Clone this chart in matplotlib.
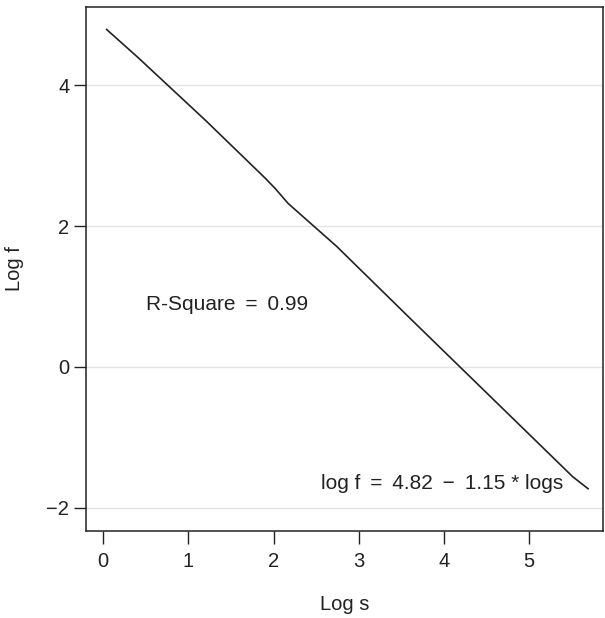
import matplotlib
matplotlib.use("Agg")
import matplotlib.pyplot as plt

# curve (log s vs log f)
log_s = [0.04, 0.41, 1.20, 1.90, 2.02, 2.17, 2.74, 3.60, 5.51, 5.69]
log_f = [4.79, 4.39, 3.50, 2.68, 2.53, 2.32, 1.71, 0.69, -1.56, -1.73]
xticks = [0, 1, 2, 3, 4, 5]
yticks = [-2, 0, 2, 4]

plt.rcParams["font.family"] = ["Liberation Sans", "DejaVu Sans"]
plt.rcParams["font.size"] = 14.5

fig = plt.figure(figsize=(6.05, 6.18), dpi=100)
ax = fig.add_axes([0.1421, 0.1408, 0.8546, 0.8479])

ax.plot(log_s, log_f, color="#222222", lw=1.2)
ax.set_xlim(-0.203, 5.865)
ax.set_ylim(-2.33, 5.11)
ax.set_xticks(xticks)
ax.set_yticks(yticks)
ax.set_yticklabels(["\u22122", "0", "2", "4"])
ax.yaxis.grid(True, color="#e4e4e4", lw=1.0)
ax.set_axisbelow(True)

for s in ax.spines.values():
    s.set_color("#222222"); s.set_linewidth(1.1)
ax.tick_params(direction="out", length=9, width=1.0, color="#222222",
               labelcolor="#222222", labelsize=14.5)
ax.tick_params(axis="x", pad=6)
ax.tick_params(axis="y", pad=3)

ax.set_xlabel("Log s", color="#222222")
ax.set_ylabel("Log f", color="#222222")
ax.xaxis.set_label_coords(0.5, -0.141)
ax.xaxis.label.set_va("center")
ax.yaxis.set_label_coords(-0.139, 0.5)
ax.yaxis.label.set_va("center")

ax.text(0.50, 0.88, "R-Square \u2009=\u2009 0.99", ha="left", va="center",
        color="#222222", fontsize=15)
ax.text(2.56, -1.65, "log f \u2009=\u2009 4.82 \u2009\u2212\u2009 1.15 * logs",
        ha="left", va="center", color="#222222", fontsize=15)

fig.savefig("out.png", dpi=100)
